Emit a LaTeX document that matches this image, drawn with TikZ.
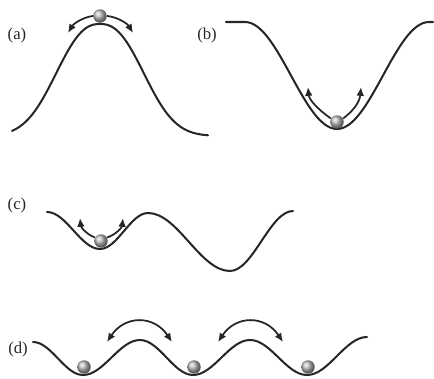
\documentclass[tikz,border=0pt]{standalone}
\usepackage{fontspec}
\setmainfont{Liberation Serif}
\usepackage{tikz}
\usetikzlibrary{arrows.meta}

\begin{document}
\begin{tikzpicture}[
  x=0.02cm, y=-0.02cm,
  >={Latex[length=5pt, width=4.4pt]},
  tag/.style={font=\fontsize{9.5}{11}\selectfont, text=black!85, inner sep=0pt},
  well/.style={line width=1.15pt, black!85, line cap=round},
  ball/.style={circle, shading=ball, ball color=gray!55, minimum size=0.27cm, inner sep=0pt},
  hop/.style={->, line width=1pt, black!85},
  swap/.style={<->, line width=1pt, black!85}
]
\useasboundingbox (0,0) rectangle (434,379);
% (a) unstable top
\node[tag] (la) at (17,35) {(a)};
\draw[well] plot[domain=12:208, samples=100] (\x, {136-112*exp(-(abs(\x-100)/55)^2.4)});
\node[ball] (ba) at (100,16) {};
\coordinate (ta1) at (68,33);
\coordinate (ta2) at (133,33);
\draw[hop] (ba.west) .. controls (84,17) and (74,23) .. (ta1);
\draw[hop] (ba.east) .. controls (117,17) and (127,23) .. (ta2);
% (b) single well
\node[tag] (lb) at (207,35) {(b)};
\draw[well] (226,22) -- (245,22) cos (291,75.5) sin (337,129) cos (383,75.5) sin (429,22) -- (433,22);
\node[ball] (bb) at (337,122) {};
\coordinate (tb1) at (308,87);
\coordinate (tb2) at (361,87);
\draw[hop] (bb.150) .. controls (316,108) and (309,99) .. (tb1);
\draw[hop] (bb.30) .. controls (357,108) and (360,99) .. (tb2);
% (c) two wells
\node[tag] (lc) at (17,205) {(c)};
\draw[well] (47,212) cos (73.5,230.5) sin (100,249) cos (124,231) sin (148,213)
  cos (189,242) sin (230,271) cos (261.5,241) sin (293,211);
\node[ball] (bc) at (101,241) {};
\coordinate (tc1) at (80,218);
\coordinate (tc2) at (123,218);
\draw[hop] (bc.150) .. controls (88,235) and (81,228) .. (tc1);
\draw[hop] (bc.30) .. controls (115,235) and (122,228) .. (tc2);
% (d) periodic wells
\node[tag] (ld) at (18,349) {(d)};
\draw[well] (33,342) cos (58,358.5) sin (83,375) cos (111.5,357.5) sin (140,340)
  cos (166.5,357.5) sin (193,375) cos (221.5,357.5) sin (250,340)
  cos (278.5,357.5) sin (307,375) cos (337,356) sin (367,337);
\node[ball] (bd1) at (84,367) {};
\node[ball] (bd2) at (194,367) {};
\node[ball] (bd3) at (308,367) {};
\coordinate (d1l) at (107,342);
\coordinate (d1r) at (172,342);
\coordinate (d2l) at (218,342);
\coordinate (d2r) at (283,342);
\draw[swap] (d1l) .. controls (125,315) and (154,315) .. (d1r);
\draw[swap] (d2l) .. controls (236,315) and (265,315) .. (d2r);
\end{tikzpicture}
\end{document}
